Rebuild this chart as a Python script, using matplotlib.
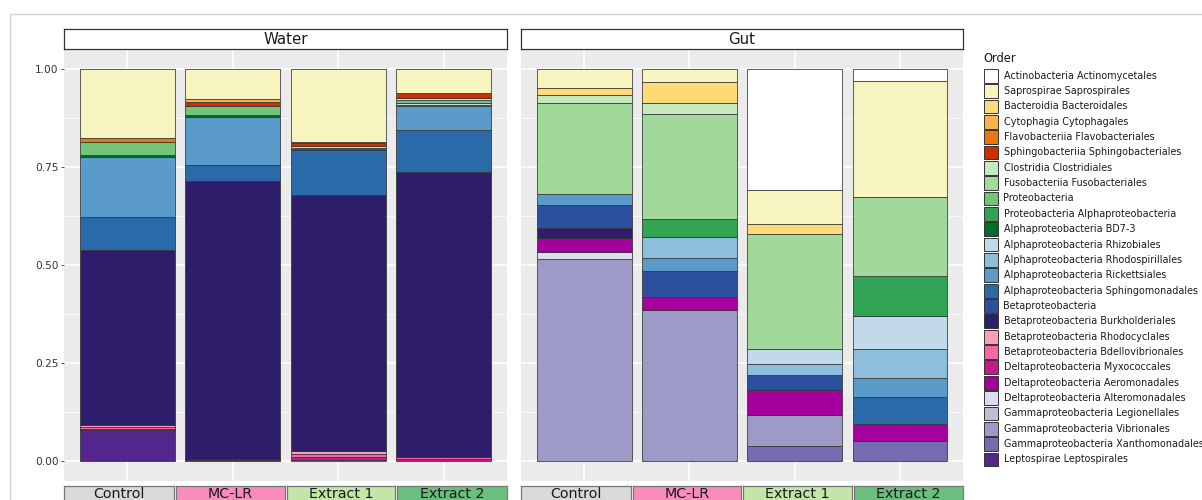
import matplotlib
matplotlib.use("Agg")
import matplotlib.pyplot as plt
from matplotlib.patches import Rectangle
from matplotlib.lines import Line2D

W, H = 1202, 500

# legend order (top of stack first, like ggplot)
orders = [
  "Actinobacteria Actinomycetales", "Saprospirae Saprospirales", "Bacteroidia Bacteroidales",
  "Cytophagia Cytophagales", "Flavobacteriia Flavobacteriales", "Sphingobacteriia Sphingobacteriales",
  "Clostridia Clostridiales", "Fusobacteriia Fusobacteriales", "Proteobacteria",
  "Proteobacteria Alphaproteobacteria", "Alphaproteobacteria BD7-3", "Alphaproteobacteria Rhizobiales",
  "Alphaproteobacteria Rhodospirillales", "Alphaproteobacteria Rickettsiales",
  "Alphaproteobacteria Sphingomonadales", "Betaproteobacteria", "Betaproteobacteria Burkholderiales",
  "Betaproteobacteria Rhodocyclales", "Betaproteobacteria Bdellovibrionales",
  "Deltaproteobacteria Myxococcales", "Deltaproteobacteria Aeromonadales",
  "Deltaproteobacteria Alteromonadales", "Gammaproteobacteria Legionellales",
  "Gammaproteobacteria Vibrionales", "Gammaproteobacteria Xanthomonadales", "Leptospirae Leptospirales",
]
order_colors = [
  "#ffffff", "#f7f4bf", "#fdd978", "#feb24c", "#e8770e", "#cc3000",
  "#c7e9c0", "#a1d99b", "#74c476", "#31a354", "#006d2c", "#c2d9ea",
  "#8dbfdd", "#5a9bc9", "#2b6aa8", "#2c4f9e", "#2d1d6a", "#fb9fb7",
  "#f768a1", "#c51b8a", "#a5009d", "#dcdcec", "#bdbedc", "#9e9ac8",
  "#756bb1", "#54278f",
]

treatments = ["Control", "MC-LR", "Extract 1", "Extract 2"]
treatment_colors = ["#d9d9d9", "#f98cbb", "#c3e6a8", "#6bbf7e"]

# relative abundances, values
water_control = {
  "Leptospirae Leptospirales": 0.080, "Deltaproteobacteria Aeromonadales": 0.002,
  "Betaproteobacteria Bdellovibrionales": 0.006, "Betaproteobacteria Rhodocyclales": 0.005,
  "Betaproteobacteria Burkholderiales": 0.445, "Alphaproteobacteria Sphingomonadales": 0.084,
  "Alphaproteobacteria Rickettsiales": 0.153, "Alphaproteobacteria BD7-3": 0.006,
  "Proteobacteria": 0.032, "Flavobacteriia Flavobacteriales": 0.011,
  "Saprospirae Saprospirales": 0.176,
}
water_mclr = {
  "Deltaproteobacteria Aeromonadales": 0.003, "Deltaproteobacteria Myxococcales": 0.004,
  "Betaproteobacteria Burkholderiales": 0.706, "Alphaproteobacteria Sphingomonadales": 0.042,
  "Alphaproteobacteria Rickettsiales": 0.122, "Alphaproteobacteria BD7-3": 0.006,
  "Proteobacteria": 0.021, "Sphingobacteriia Sphingobacteriales": 0.012,
  "Cytophagia Cytophagales": 0.006, "Saprospirae Saprospirales": 0.078,
}
water_ext1 = {
  "Deltaproteobacteria Alteromonadales": 0.004, "Deltaproteobacteria Myxococcales": 0.008,
  "Betaproteobacteria Bdellovibrionales": 0.007, "Betaproteobacteria Rhodocyclales": 0.007,
  "Betaproteobacteria Burkholderiales": 0.653, "Alphaproteobacteria Sphingomonadales": 0.114,
  "Alphaproteobacteria Rickettsiales": 0.003, "Alphaproteobacteria Rhodospirillales": 0.003,
  "Alphaproteobacteria Rhizobiales": 0.004, "Sphingobacteriia Sphingobacteriales": 0.008,
  "Flavobacteriia Flavobacteriales": 0.003, "Saprospirae Saprospirales": 0.186,
}
water_ext2 = {
  "Deltaproteobacteria Myxococcales": 0.006, "Betaproteobacteria Bdellovibrionales": 0.005,
  "Betaproteobacteria Burkholderiales": 0.725, "Alphaproteobacteria Sphingomonadales": 0.108,
  "Alphaproteobacteria Rickettsiales": 0.060, "Alphaproteobacteria Rhodospirillales": 0.004,
  "Alphaproteobacteria Rhizobiales": 0.005, "Proteobacteria": 0.008,
  "Clostridia Clostridiales": 0.003, "Sphingobacteriia Sphingobacteriales": 0.015,
  "Saprospirae Saprospirales": 0.061,
}
gut_control = {
  "Gammaproteobacteria Vibrionales": 0.515, "Deltaproteobacteria Alteromonadales": 0.017,
  "Deltaproteobacteria Aeromonadales": 0.036, "Betaproteobacteria Burkholderiales": 0.026,
  "Betaproteobacteria": 0.059, "Alphaproteobacteria Rickettsiales": 0.028,
  "Fusobacteriia Fusobacteriales": 0.232, "Clostridia Clostridiales": 0.019,
  "Bacteroidia Bacteroidales": 0.019, "Saprospirae Saprospirales": 0.049,
}
gut_mclr = {
  "Gammaproteobacteria Vibrionales": 0.386, "Deltaproteobacteria Aeromonadales": 0.032,
  "Betaproteobacteria": 0.066, "Alphaproteobacteria Rickettsiales": 0.033,
  "Alphaproteobacteria Rhodospirillales": 0.054, "Proteobacteria Alphaproteobacteria": 0.046,
  "Fusobacteriia Fusobacteriales": 0.267, "Clostridia Clostridiales": 0.029,
  "Bacteroidia Bacteroidales": 0.053, "Saprospirae Saprospirales": 0.034,
}
gut_ext1 = {
  "Gammaproteobacteria Xanthomonadales": 0.039, "Gammaproteobacteria Vibrionales": 0.079,
  "Deltaproteobacteria Aeromonadales": 0.063, "Betaproteobacteria": 0.038,
  "Alphaproteobacteria Rhodospirillales": 0.028, "Alphaproteobacteria Rhizobiales": 0.040,
  "Fusobacteriia Fusobacteriales": 0.291, "Bacteroidia Bacteroidales": 0.026,
  "Saprospirae Saprospirales": 0.086, "Actinobacteria Actinomycetales": 0.310,
}
gut_ext2 = {
  "Gammaproteobacteria Xanthomonadales": 0.052, "Deltaproteobacteria Aeromonadales": 0.042,
  "Alphaproteobacteria Sphingomonadales": 0.071, "Alphaproteobacteria Rickettsiales": 0.048,
  "Alphaproteobacteria Rhodospirillales": 0.073, "Alphaproteobacteria Rhizobiales": 0.083,
  "Proteobacteria Alphaproteobacteria": 0.104, "Fusobacteriia Fusobacteriales": 0.200,
  "Saprospirae Saprospirales": 0.296, "Actinobacteria Actinomycetales": 0.031,
}

panels = [
  ("Water", [water_control, water_mclr, water_ext1, water_ext2]),
  ("Gut", [gut_control, gut_mclr, gut_ext1, gut_ext2]),
]


def px_axes(fig, x0, y0, x1, y1):
  return fig.add_axes([x0 / W, 1 - y1 / H, (x1 - x0) / W, (y1 - y0) / H])


fig = plt.figure(figsize=(W / 100, H / 100), dpi=100)
fig.patch.set_facecolor("white")

# outer frame
fig.add_artist(Line2D([10 / W, 10 / W], [0, 1 - 14 / H], color="#d4d4d4", lw=1))
fig.add_artist(Line2D([10 / W, 1], [1 - 14 / H, 1 - 14 / H], color="#d4d4d4", lw=1))

panel_x = [(64, 507), (521, 963)]
color_of = dict(zip(orders, order_colors))

for p, (title, samples) in enumerate(panels):
  x0, x1 = panel_x[p]
  ax = px_axes(fig, x0, 49, x1, 481)
  ax.set_facecolor("#ebebeb")
  for s in ax.spines.values():
    s.set_visible(False)
  ax.set_xlim(0.4, 4.6)
  ax.set_ylim(-0.05, 1.05)
  ax.set_xticks([1, 2, 3, 4])
  ax.set_xticklabels([])
  ax.set_yticks([0, 0.25, 0.5, 0.75, 1.0])
  ax.set_yticks([0.125, 0.375, 0.625, 0.875], minor=True)
  ax.grid(which="major", color="white", lw=1.1)
  ax.grid(which="minor", axis="y", color="white", lw=0.5)
  ax.set_axisbelow(True)
  ax.tick_params(axis="x", length=0)
  ax.tick_params(axis="y", which="minor", length=0)
  if p == 0:
    ax.set_yticklabels(["0.00", "0.25", "0.50", "0.75", "1.00"])
    ax.tick_params(axis="y", length=2.5, width=0.6, color="#333333", labelsize=7.6,
                   labelcolor="#333333", pad=1.5)
  else:
    ax.set_yticklabels([])
    ax.tick_params(axis="y", length=0)

  for i, sample in enumerate(samples):
    bottom = 0
    for name in reversed(orders):
      v = sample.get(name, 0)
      if v <= 0:
        continue
      ax.bar(i + 1, v, bottom=bottom, width=0.9, color=color_of[name],
             edgecolor="#333333", linewidth=0.55)
      bottom += v

  # top strip
  sax = px_axes(fig, x0, 29, x1, 49)
  sax.set_facecolor("white")
  sax.set_xticks([])
  sax.set_yticks([])
  for s in sax.spines.values():
    s.set_color("#333333")
    s.set_linewidth(0.9)
  sax.text(0.5, 0.45, title, ha="center", va="center", fontsize=10.8, color="#1a1a1a",
           transform=sax.transAxes)

  # treatment strips below the panel
  cell = (x1 - x0) / 4
  for i, (lab, c) in enumerate(zip(treatments, treatment_colors)):
    bx0 = x0 + i * cell + (0 if i == 0 else 1)
    bx1 = x0 + (i + 1) * cell - (0 if i == 3 else 1)
    bax = px_axes(fig, bx0, 486, bx1, 510)
    bax.set_facecolor(c)
    bax.set_xticks([])
    bax.set_yticks([])
    for s in bax.spines.values():
      s.set_color("#777777")
      s.set_linewidth(0.9)
    # keep the label inside the canvas
    fig.text((bx0 + bx1) / 2 / W, 1 - 494.5 / H, lab, ha="center", va="center",
             fontsize=10.3, color="#1a1a1a")

# legend drawn on an overlay in pixel coordinates
lax = fig.add_axes([0, 0, 1, 1])
lax.set_xlim(0, W)
lax.set_ylim(H, 0)
lax.axis("off")
lax.patch.set_alpha(0)
lax.text(983, 58, "Order", fontsize=8.3, va="center", ha="left", color="#1a1a1a")
key_h = 15.35
for k, (name, c) in enumerate(zip(orders, order_colors)):
  top = 68.3 + k * key_h
  lax.add_patch(Rectangle((983.5, top + 0.5), 14, key_h - 1.5, facecolor=c,
                          edgecolor="#333333", lw=0.7))
  lax.text(1003.5, top + key_h / 2 - 0.3, name, fontsize=6.9, va="center", ha="left",
           color="#1a1a1a")

fig.savefig("out.png", dpi=100, facecolor="white")
